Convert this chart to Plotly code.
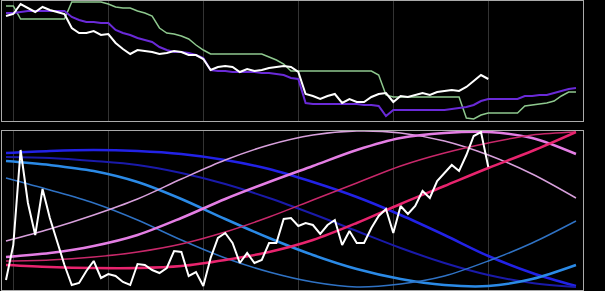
import plotly.graph_objects as go
from plotly.subplots import make_subplots

# ---- data (weekly index) ----
weeks_top_white = list(range(67))
weeks_full = list(range(79))
weeks_curve = [0, 6, 12, 18, 24, 30, 36, 42, 48, 54, 60, 66, 72, 78]

# top panel (value scale 0..120)
top_white_px = [16, 14, 4, 8, 12, 7, 10, 12, 14, 28, 33, 33, 31, 35, 34, 43, 49, 54, 50, 51,
                52, 54, 53, 51, 52, 55, 55, 59, 70, 67, 66, 67, 72, 69, 71, 70, 68, 67, 66, 67,
                72, 94, 96, 99, 96, 94, 103, 99, 102, 102, 97, 94, 93, 102, 96, 97, 95, 93, 95, 92,
                91, 90, 91, 87, 81, 75, 79]
top_purple_px = [13, 13, 12, 11, 11, 11, 11, 11, 11, 17, 20, 22, 22, 23, 23, 30, 33, 35, 38, 40,
                 42, 47, 50, 52, 52, 53, 55, 58, 70, 71, 71, 72, 72, 72, 72, 73, 73, 74, 75, 78,
                 79, 103, 104, 104, 104, 104, 104, 104, 104, 105, 105, 106, 116, 110, 110, 110, 110, 110, 110, 110,
                 110, 109, 108, 107, 105, 101, 99, 99, 99, 99, 99, 96, 96, 95, 95, 93, 91, 89, 88]
top_green_px = [6, 6, 19, 19, 19, 19, 19, 19, 19, 2, 2, 2, 2, 2, 4, 7, 8, 8, 11, 13,
                16, 28, 33, 34, 36, 39, 45, 50, 54, 54, 54, 54, 54, 54, 54, 54, 57, 60, 64, 71,
                71, 71, 71, 71, 71, 71, 71, 71, 71, 71, 71, 75, 95, 97, 97, 97, 97, 97, 97, 97,
                97, 97, 97, 118, 119, 115, 113, 113, 113, 113, 113, 106, 105, 104, 103, 101, 96, 92, 92]
top_white = [121 - v for v in top_white_px]
top_purple = [121 - v for v in top_purple_px]
top_green = [121 - v for v in top_green_px]

# bottom panel (value scale 0..159)
bot_white_px = [280, 245, 150, 203, 235, 189, 218, 241, 265, 285, 283, 271, 261, 278, 274, 276, 282, 285, 264, 265,
                270, 273, 268, 251, 252, 276, 272, 286, 258, 238, 233, 243, 263, 253, 263, 260, 243, 243, 219, 218,
                226, 223, 225, 234, 225, 220, 245, 231, 243, 243, 228, 216, 209, 233, 206, 214, 206, 191, 198, 181,
                173, 165, 171, 155, 136, 132, 167]
bot_white = [290 - v for v in bot_white_px]

curve_blue_px = [153, 151, 150, 151, 154, 160, 169, 182, 197, 215, 235, 256, 273, 286]
curve_navy_px = [157, 158, 161, 165, 173, 184, 198, 214, 231, 248, 263, 275, 283, 287]
curve_dodger_px = [161, 165, 171, 182, 199, 219, 238, 255, 269, 279, 285, 286, 279, 265]
curve_steel_px = [178, 190, 203, 220, 240, 258, 272, 282, 287, 284, 276, 261, 243, 221]
curve_plum_px = [241, 229, 215, 199, 179, 160, 145, 135, 131, 133, 141, 155, 174, 198]
curve_orchid_px = [257, 253, 246, 235, 218, 199, 182, 166, 150, 138, 133, 132, 138, 154]
curve_crimson_px = [261, 260, 257, 252, 244, 232, 217, 200, 183, 166, 153, 143, 135, 132]
curve_pink_px = [265, 267, 268, 268, 266, 260, 252, 240, 223, 204, 186, 168, 151, 132]

curves = [
    ("c1", curve_blue_px, "#2222e6", 2.5),
    ("c2", curve_navy_px, "#1a1aaa", 2.0),
    ("c3", curve_dodger_px, "#2b8ae6", 2.5),
    ("c4", curve_steel_px, "#2f72c4", 1.5),
    ("c5", curve_plum_px, "#d8a0dc", 1.5),
    ("c6", curve_orchid_px, "#e47ee4", 2.5),
    ("c7", curve_crimson_px, "#c8286a", 1.5),
    ("c8", curve_pink_px, "#e8246e", 2.5),
]

fig = make_subplots(rows=2, cols=1, shared_xaxes=False, vertical_spacing=0.0)

fig.add_trace(go.Scatter(x=weeks_full, y=top_green, mode="lines",
                         line=dict(color="#8ec88e", width=1.5), name="green"), row=1, col=1)
fig.add_trace(go.Scatter(x=weeks_full, y=top_purple, mode="lines",
                         line=dict(color="#6a2ad8", width=2), name="purple"), row=1, col=1)
fig.add_trace(go.Scatter(x=weeks_top_white, y=top_white, mode="lines",
                         line=dict(color="#ffffff", width=2), name="white"), row=1, col=1)

for name, px, color, w in curves:
    fig.add_trace(go.Scatter(x=weeks_curve, y=[290 - v for v in px], mode="lines",
                             line=dict(color=color, width=w, shape="spline", smoothing=0.9),
                             name=name), row=2, col=1)
fig.add_trace(go.Scatter(x=weeks_top_white, y=bot_white, mode="lines",
                         line=dict(color="#ffffff", width=2), name="white2"), row=2, col=1)

xrange = [-0.547, 78.96]
axis_common = dict(showline=True, mirror=True, linecolor="#aaaaaa", linewidth=1,
                   showgrid=True, gridcolor="#333333", gridwidth=1, zeroline=False,
                   showticklabels=False, ticks="")
fig.update_xaxes(range=xrange, tick0=1, dtick=13, **axis_common)
fig.update_yaxes(showline=True, mirror=True, linecolor="#aaaaaa", linewidth=1,
                 showgrid=False, zeroline=False, showticklabels=False, ticks="")
fig.update_yaxes(range=[0, 120], row=1, col=1)
fig.update_yaxes(range=[0, 159], row=2, col=1)

fig.update_layout(
    width=605, height=291,
    margin=dict(l=2, r=22, t=1, b=1),
    paper_bgcolor="#000000", plot_bgcolor="#000000",
    showlegend=False,
    yaxis=dict(domain=[169 / 289, 1.0]),
    yaxis2=dict(domain=[0.0, 159 / 289]),
)

fig.write_html("out.html")
